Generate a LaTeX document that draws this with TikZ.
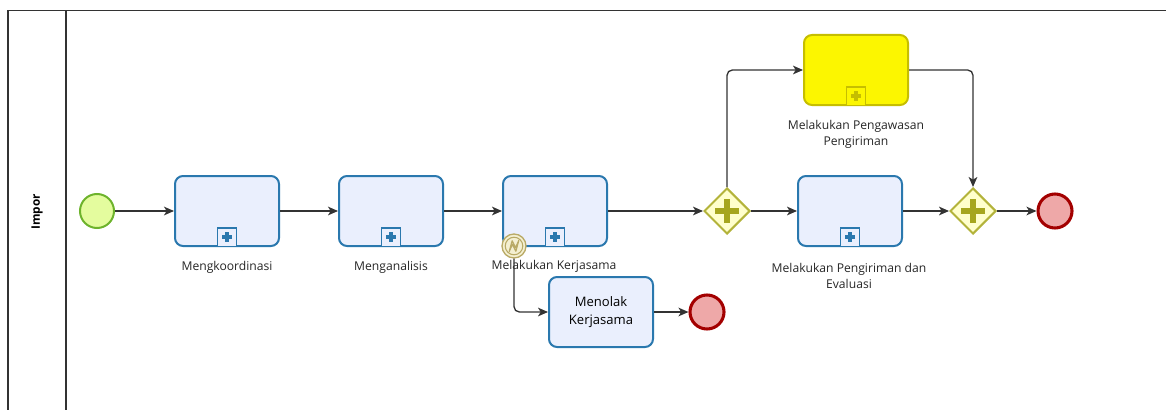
\documentclass[tikz,border=0pt]{standalone}
\usepackage{fontspec}
\setmainfont{Open Sans}
\usetikzlibrary{shapes.geometric,arrows.meta,calc}
\definecolor{taskfill}{HTML}{EAEFFD}
\definecolor{taskdraw}{HTML}{2A78AE}
\definecolor{startfill}{HTML}{E4FC9E}
\definecolor{startdraw}{HTML}{6DB32C}
\definecolor{endfill}{HTML}{EEA8A8}
\definecolor{enddraw}{HTML}{A30000}
\definecolor{gwfill}{HTML}{FFFFCC}
\definecolor{gwdraw}{HTML}{B3B33A}
\definecolor{gwplus}{HTML}{A6A61E}
\definecolor{yfill}{HTML}{FCF600}
\definecolor{ydraw}{HTML}{C6BE00}
\definecolor{bfill}{HTML}{F4F0D2}
\definecolor{bdraw}{HTML}{B9AA66}
\definecolor{pooldraw}{HTML}{333333}
\begin{document}
\begin{tikzpicture}[x=0.75pt,y=-0.75pt,
  lbl/.style={font=\fontsize{9.1}{12.5}\selectfont, align=center, inner sep=0pt, text=black!85},
  task/.style={rectangle, rounded corners=6pt, minimum width=78pt, minimum height=52.5pt, inner sep=0pt, line width=1.5pt, draw=taskdraw, fill=taskfill, align=center, font=\fontsize{9.8}{13.5}\selectfont},
  ytask/.style={task, draw=ydraw, fill=yfill},
  mk/.style={rectangle, minimum size=14pt, inner sep=0pt, line width=1.1pt, draw=taskdraw, fill=taskfill,
    path picture={
      \fill[taskdraw] ($(path picture bounding box.center)+(-3.9pt,-1.35pt)$) rectangle ($(path picture bounding box.center)+(3.9pt,1.35pt)$);
      \fill[taskdraw] ($(path picture bounding box.center)+(-1.35pt,-3.9pt)$) rectangle ($(path picture bounding box.center)+(1.35pt,3.9pt)$);
    }},
  ymk/.style={rectangle, minimum size=14pt, inner sep=0pt, line width=1.1pt, draw=ydraw, fill=yfill,
    path picture={
      \fill[ydraw] ($(path picture bounding box.center)+(-3.9pt,-1.35pt)$) rectangle ($(path picture bounding box.center)+(3.9pt,1.35pt)$);
      \fill[ydraw] ($(path picture bounding box.center)+(-1.35pt,-3.9pt)$) rectangle ($(path picture bounding box.center)+(1.35pt,3.9pt)$);
    }},
  gw/.style={diamond, aspect=1, minimum width=34.5pt, minimum height=34.5pt, inner sep=0pt, line width=1.5pt, draw=gwdraw, fill=gwfill,
    path picture={
      \fill[gwplus] ($(path picture bounding box.center)+(-9pt,-2.6pt)$) rectangle ($(path picture bounding box.center)+(9pt,2.6pt)$);
      \fill[gwplus] ($(path picture bounding box.center)+(-2.6pt,-9pt)$) rectangle ($(path picture bounding box.center)+(2.6pt,9pt)$);
    }},
  startev/.style={circle, minimum size=25.5pt, inner sep=0pt, line width=1.5pt, draw=startdraw, fill=startfill},
  endev/.style={circle, minimum size=25.5pt, inner sep=0pt, line width=2.3pt, draw=enddraw, fill=endfill},
  bev/.style={circle, minimum size=18pt, inner sep=0pt, line width=1pt, draw=bdraw, fill=bfill},
  flow/.style={draw=black!80, line width=1pt, -{Stealth[length=7.5pt,width=6.5pt,inset=2pt]}},
  corner/.style={rounded corners=4pt}
]
\useasboundingbox (0,0) rectangle (1166,410);
% pool
\draw[pooldraw, line width=1pt] (1166,10.5) -- (8,10.5) -- (8,412);
\draw[pooldraw, line width=1pt] (66,10.5) -- (66,412);
\node[rotate=90, font=\bfseries\fontsize{8.8}{10}\selectfont] (pool) at (37,212) {Impor};

% nodes
\node[startev] (s) at (97,211) {};
\node[task] (t1) at (227,211) {};
\node[task] (t2) at (391,211) {};
\node[task] (t3) at (555,211) {};
\node[gw] (g1) at (727,211) {};
\node[ytask] (t4) at (856,70) {};
\node[task] (t5) at (850,211) {};
\node[gw] (g2) at (973,211) {};
\node[endev] (e1) at (1055,211) {};
\node[task] (t6) at (601,312) {Menolak\\Kerjasama};
\node[endev] (e2) at (707,312) {};

% markers
\foreach \t in {t1,t2,t3,t5} {
  \node[mk] (\t m) at ([yshift=7.4pt]\t.south) {};
}
\node[ymk] (t4m) at ([yshift=7.4pt]t4.south) {};

% boundary event
\node[bev] (b) at (514,246) {};
\draw[bdraw, line width=0.8pt] (b.center) circle[radius=6.6pt];
\draw[bdraw, line width=0.9pt, line join=round] ($(b.center)+(-3.6pt,-4.2pt)$) -- ($(b.center)+(-1.4pt,3.9pt)$) -- ($(b.center)+(1.2pt,-1.2pt)$) -- ($(b.center)+(3.6pt,4.2pt)$) -- ($(b.center)+(1.4pt,-3.9pt)$) -- ($(b.center)+(-1.2pt,1.2pt)$) -- cycle;

% labels
\node[lbl] (l1) at (227,267) {Mengkoordinasi};
\node[lbl] (l2) at (391,267) {Menganalisis};
\node[lbl] (l3) at (554,266) {Melakukan Kerjasama};
\node[lbl] (l4) at (856,134.5) {Melakukan Pengawasan\\Pengiriman};
\node[lbl] (l5) at (849,276) {Melakukan Pengiriman dan\\Evaluasi};

% flows
\draw[flow] (s) -- (t1);
\draw[flow] (t1) -- (t2);
\draw[flow] (t2) -- (t3);
\draw[flow] (t3) -- (g1);
\draw[flow, corner] (g1.north) |- (t4.west);
\draw[flow, corner] (t4.east) -| (g2.north);
\draw[flow] (g1) -- (t5);
\draw[flow] (t5) -- (g2);
\draw[flow] (g2) -- (e1);
\draw[flow, corner] (b.south) |- (t6.west);
\draw[flow] (t6) -- (e2);
\end{tikzpicture}
\end{document}
